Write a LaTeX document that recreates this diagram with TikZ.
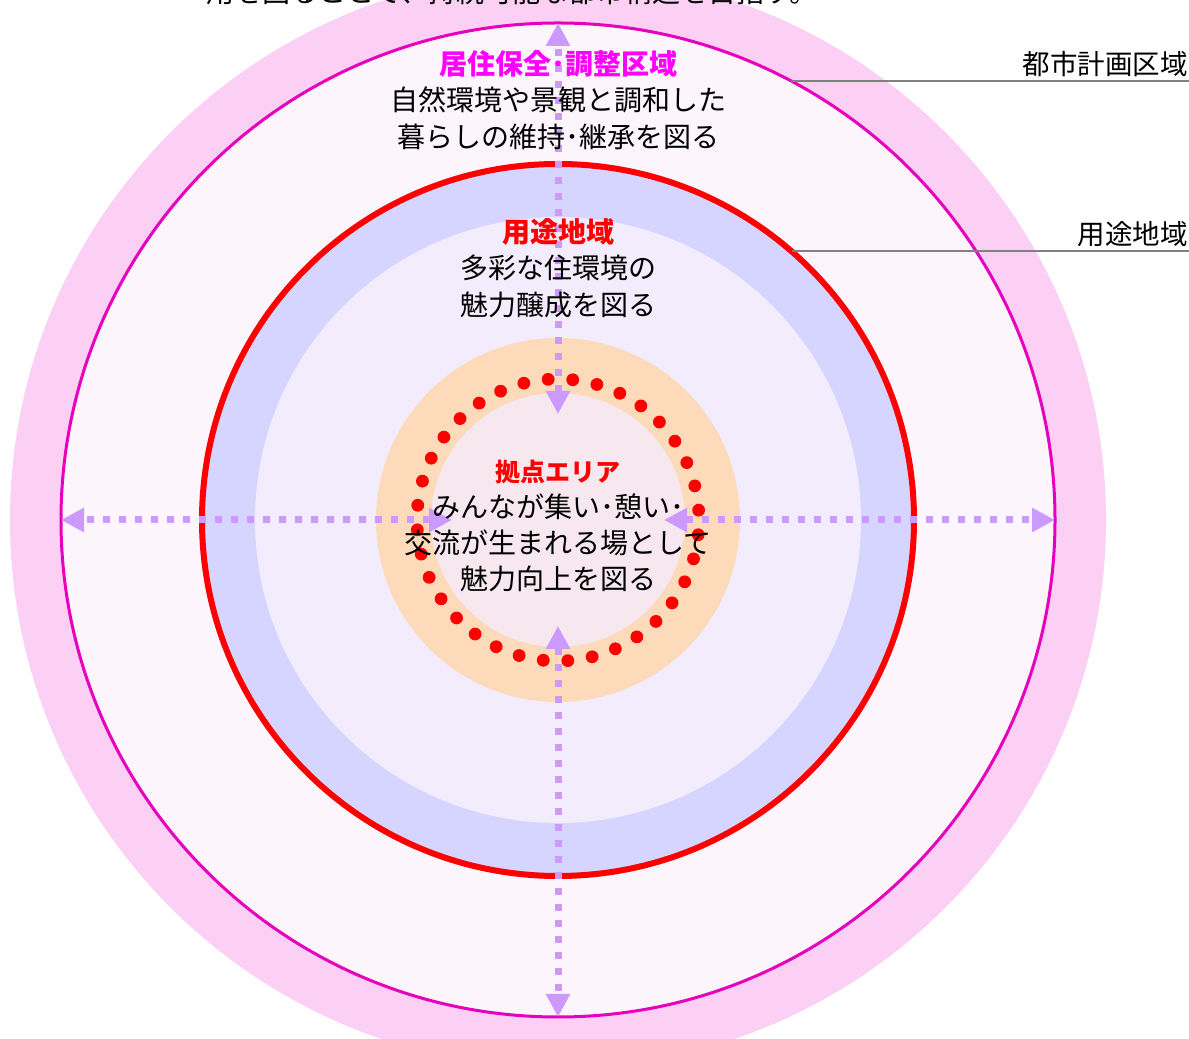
\documentclass[tikz,border=0pt]{standalone}
\usepackage{fontspec}
\setmainfont{Noto Sans CJK JP}
\usetikzlibrary{arrows.meta,calc}
\definecolor{outerpink}{RGB}{252,208,244}
\definecolor{magline}{RGB}{230,0,190}
\definecolor{magfill}{RGB}{252,245,252}
\definecolor{bluering}{RGB}{213,213,255}
\definecolor{lavfill}{RGB}{242,236,252}
\definecolor{peach}{RGB}{253,218,185}
\definecolor{innerfill}{RGB}{246,232,238}
\definecolor{arrowpurple}{RGB}{204,153,255}
\definecolor{titlemag}{RGB}{255,0,255}
\definecolor{leadergray}{RGB}{128,128,128}
\begin{document}
\begin{tikzpicture}[x=1pt,y=1pt,
  disc/.style={circle, inner sep=0pt, outer sep=0pt, minimum size=#1},
  flow/.style={draw=arrowpurple, line width=7pt, dash pattern=on 7pt off 9pt,
    {Triangle[length=23pt,width=23pt]}-{Triangle[length=23pt,width=23pt]}},
  body/.style={align=center, inner sep=0pt, font=\fontsize{28}{36.3}\selectfont},
  sidelabel/.style={anchor=east, inner sep=0pt, font=\fontsize{27.5}{30}\selectfont},
  leader/.style={draw=leadergray, line width=2pt},
  reddot/.style={fill=red},
]
\fill[white] (0,0) rectangle (1189,1039);
\useasboundingbox (0,0) rectangle (1189,1039);
\coordinate (c) at (558,519);
\coordinate (rightedge) at (1189,0);
% rings
\node[disc=1096pt, fill=outerpink] (outer) at (c) {};
\node[disc=994pt, fill=magfill, draw=magline, line width=3pt] (mag) at (c) {};
\node[disc=712pt, fill=bluering, draw=red, line width=6pt] (redc) at (c) {};
\node[disc=606pt, fill=lavfill] (lav) at (c) {};
\node[disc=364pt, fill=peach] (core) at (c) {};
\node[disc=254pt, fill=innerfill] (inner) at (c) {};
% arrow inner ends
\coordinate (inN) at ($(c)+(0,106)$);
\coordinate (inS) at ($(c)+(0,-106)$);
\coordinate (inW) at ($(c)+(-106,0)$);
\coordinate (inE) at ($(c)+(106,0)$);
\draw[flow] (inN) -- (mag.north);
\draw[flow] (inS) -- (mag.south);
\draw[flow] (inW) -- (mag.west);
\draw[flow] (inE) -- (mag.east);
% red dotted ring
\foreach \i in {0,...,35} \fill[reddot] ($(c)+({84+\i*10}:141)$) circle (6.4);
% leaders
\draw[leader] (mag.62) -- (mag.62 -| rightedge);
\draw[leader] (redc.49.3) -- (redc.49.3 -| rightedge);
\node[sidelabel] (lblCity) at (1188,975) {都市計画区域};
\node[sidelabel] (lblUse) at (1188,805) {用途地域};
% texts
\node[body] (topcut) at (512,1047) {用を図ることで、持続可能な都市構造を目指す。};
\node[body] (txtA) at (558,939) {{\bfseries\color{titlemag}居住保全･調整区域}\\自然環境や景観と調和した\\暮らしの維持･継承を図る};
\node[body] (txtB) at (558,771) {{\bfseries\color{red}用途地域}\\多彩な住環境の\\魅力醸成を図る};
\node[body] (txtC) at (558,513) {{\bfseries\color{red}\fontsize{25}{36.3}\selectfont 拠点エリア}\\みんなが集い･憩い･\\交流が生まれる場として\\魅力向上を図る};
\end{tikzpicture}
\end{document}
